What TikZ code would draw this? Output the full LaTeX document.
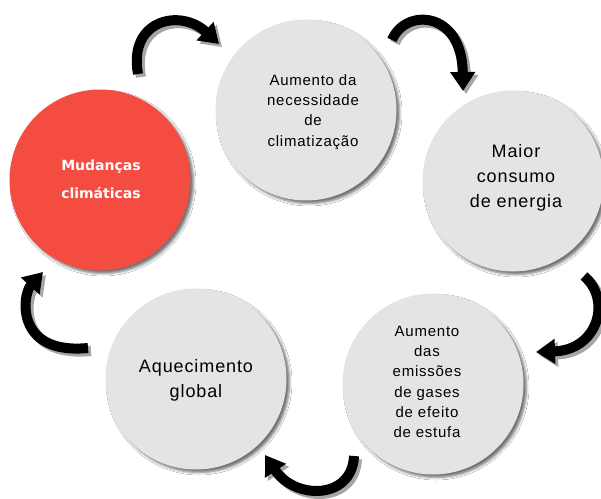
\documentclass[tikz,border=0pt]{standalone}
\usepackage{fontspec}
\setmainfont{Liberation Sans}[LetterSpace=5.0]
\newfontfamily\redfont{DejaVu Sans}
\usetikzlibrary{arrows.meta,shadows.blur}
\definecolor{cfill}{RGB}{228,228,228}
\definecolor{cred}{RGB}{245,76,66}
\tikzset{
  bubble/.style={circle, minimum size=181pt, inner sep=0pt, fill=cfill,
    blur shadow={shadow xshift=3pt, shadow yshift=-3pt, shadow blur radius=2.5pt, shadow opacity=55}},
  redbubble/.style={bubble, fill=cred},
  bigtxt/.style={align=center, font=\fontsize{18}{25}\selectfont},
  smalltxt/.style={align=center, font=\fontsize{15}{20.3}\selectfont},
  redtxt/.style={align=center, text=white, font=\redfont\bfseries\fontsize{14}{28}\selectfont},
  arr/.style={line width=10pt, -{Triangle[length=19pt,width=24pt]}},
  arrsh/.style={arr, draw=gray!70, transform canvas={xshift=3pt,yshift=-3pt}}
}
\begin{document}
\begin{tikzpicture}[x=1pt,y=-1pt]
\useasboundingbox[fill=white] (0,0) rectangle (601,498);
% circles
\node[redbubble] (red) at (100,180) {};
\node[bubble] (top) at (306,110) {};
\node[bubble] (right) at (513,181) {};
\node[bubble] (bright) at (433,384) {};
\node[bubble] (bleft) at (196,379) {};
% texts
\node[redtxt] (tred) at (101,179) {Mudanças\\climáticas};
\node[smalltxt] (ttop) at (313,112) {Aumento da\\necessidade\\de\\climatização};
\node[bigtxt] (tright) at (516,178) {Maior\\consumo\\de energia};
\node[smalltxt] (tbright) at (427,382) {Aumento\\das\\emissões\\de gases\\de efeito\\de estufa};
\node[bigtxt] (tbleft) at (196,380) {Aquecimento\\global};
% arrow end points
\coordinate (a1s) at (138,74); \coordinate (a1e) at (219,44);
\coordinate (a2s) at (392,40); \coordinate (a2e) at (463,91);
\coordinate (a3s) at (584,276); \coordinate (a3e) at (536,352);
\coordinate (a4s) at (354,456); \coordinate (a4e) at (265,455);
\coordinate (a5s) at (88,348); \coordinate (a5e) at (43,272);
% shadows
\draw[arrsh] (a1s) .. controls (128,20) and (180,8) .. (a1e);
\draw[arrsh] (a2s) .. controls (405,8) and (462,10) .. (a2e);
\draw[arrsh] (a3s) .. controls (612,300) and (598,350) .. (a3e);
\draw[arrsh] (a4s) .. controls (352,500) and (295,500) .. (a4e);
\draw[arrsh] (a5s) .. controls (15,355) and (22,295) .. (a5e);
% arrows
\draw[arr] (a1s) .. controls (128,20) and (180,8) .. (a1e);
\draw[arr] (a2s) .. controls (405,8) and (462,10) .. (a2e);
\draw[arr] (a3s) .. controls (612,300) and (598,350) .. (a3e);
\draw[arr] (a4s) .. controls (352,500) and (295,500) .. (a4e);
\draw[arr] (a5s) .. controls (15,355) and (22,295) .. (a5e);
\end{tikzpicture}
\end{document}
